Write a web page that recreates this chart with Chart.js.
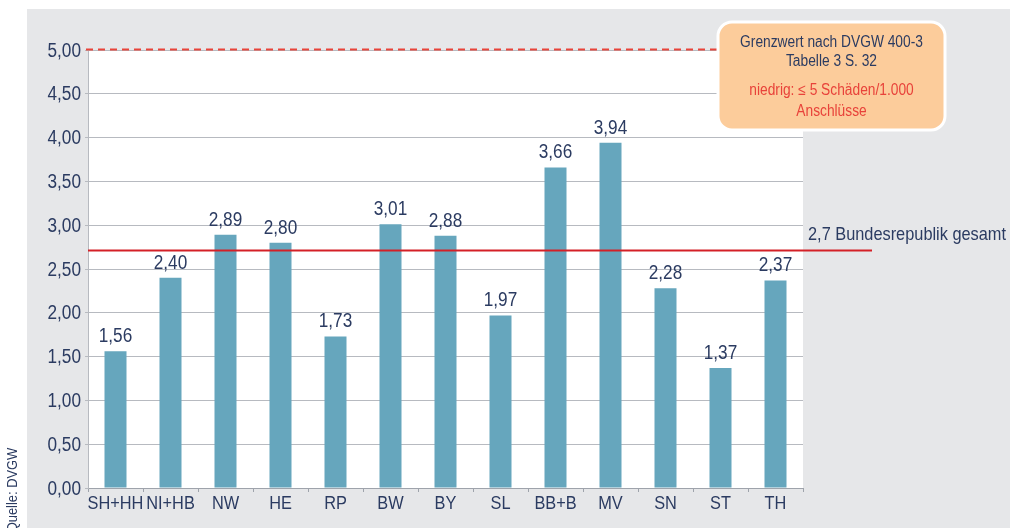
<!DOCTYPE html>
<html>
<head>
<meta charset="utf-8">
<script src="https://cdn.jsdelivr.net/npm/chart.js@4"></script>
<style>
  html, body { margin: 0; padding: 0; background: #fff; }
  #wrap { width: 1010px; height: 528px; }
</style>
</head>
<body>
<div id="wrap"><canvas id="schadenChart" width="1010" height="528"></canvas></div>
<script>
// Data
const laender = ['SH+HH', 'NI+HB', 'NW', 'HE', 'RP', 'BW', 'BY', 'SL', 'BB+B', 'MV', 'SN', 'ST', 'TH'];
const schaeden = [1.56, 2.40, 2.89, 2.80, 1.73, 3.01, 2.88, 1.97, 3.66, 3.94, 2.28, 1.37, 2.37];
const grenzwert = 5;
const bundesschnitt = 2.71;
const yTicks = [0, 0.5, 1, 1.5, 2, 2.5, 3, 3.5, 4, 4.5, 5];

const FONT = '"Liberation Sans", Arial, sans-serif';
const NAVY = '#2b3b61';
const SQUEEZE = 0.86; // narrow look of the original condensed face
const fmt = v => v.toFixed(2).replace('.', ',');

// draw text horizontally condensed
function narrowText(ctx, text, x, y, size, align, color, baseline) {
  ctx.save();
  ctx.translate(x, y);
  ctx.scale(SQUEEZE, 1);
  ctx.font = size + 'px ' + FONT;
  ctx.fillStyle = color;
  ctx.textAlign = align;
  ctx.textBaseline = baseline || 'middle';
  ctx.fillText(text, 0, 0);
  ctx.restore();
}

// Background, plot area, reference lines, box and labels
const deko = {
  id: 'deko',
  beforeDraw(chart) {
    const { ctx, chartArea: a } = chart;
    ctx.save();
    ctx.fillStyle = '#fff';
    ctx.fillRect(0, 0, chart.width, chart.height);
    ctx.fillStyle = '#e6e7e9';
    ctx.fillRect(27, 9, chart.width - 27, chart.height - 9);
    ctx.fillStyle = '#fff';
    ctx.fillRect(a.left, a.top, a.right - a.left, a.bottom - a.top);
    ctx.restore();
  },
  afterDatasetsDraw(chart) {
    const { ctx, chartArea: a, scales: { x, y } } = chart;
    ctx.save();

    // axis labels
    yTicks.forEach(v => narrowText(ctx, fmt(v), a.left - 7, y.getPixelForValue(v) + 1, 20, 'right', NAVY));
    laender.forEach((l, i) => narrowText(ctx, l, x.getPixelForValue(i), a.bottom + 16, 19, 'center', NAVY));

    // value labels
    chart.getDatasetMeta(0).data.forEach((bar, i) => {
      narrowText(ctx, fmt(schaeden[i]), bar.x, bar.y - 9, 20, 'center', NAVY, 'alphabetic');
    });

    // Grenzwert dashed
    const yG = Math.round(y.getPixelForValue(grenzwert)) - 0.5;
    ctx.strokeStyle = '#e8443a';
    ctx.lineWidth = 2;
    ctx.setLineDash([7, 5]);
    ctx.beginPath();
    ctx.moveTo(a.left - 2, yG);
    ctx.lineTo(a.right - 80, yG);
    ctx.stroke();
    ctx.setLineDash([]);

    // Bundesschnitt
    const yB = y.getPixelForValue(bundesschnitt);
    ctx.strokeStyle = '#d42027';
    ctx.lineWidth = 2;
    ctx.beginPath();
    ctx.moveTo(a.left, yB);
    ctx.lineTo(a.right + 69, yB);
    ctx.stroke();
    narrowText(ctx, '2,7 Bundesrepublik gesamt', a.right + 5, yB - 16, 19, 'left', NAVY);

    // Grenzwert box
    const bx = a.right - 85, by = 22, bw = 227, bh = 108;
    ctx.beginPath();
    ctx.roundRect(bx, by, bw, bh, 14);
    ctx.fillStyle = '#fccc9b';
    ctx.fill();
    ctx.strokeStyle = '#fff';
    ctx.lineWidth = 3;
    ctx.stroke();
    const cx = bx + bw / 2;
    narrowText(ctx, 'Grenzwert nach DVGW 400-3', cx, by + 21, 16, 'center', NAVY);
    narrowText(ctx, 'Tabelle 3 S. 32', cx, by + 40, 16, 'center', NAVY);
    narrowText(ctx, 'niedrig: \u2264 5 Schäden/1.000', cx, by + 69, 16, 'center', '#e8423a');
    narrowText(ctx, 'Anschlüsse', cx, by + 90, 16, 'center', '#e8423a');

    // Quelle
    ctx.translate(13, 490);
    ctx.rotate(-Math.PI / 2);
    narrowText(ctx, 'Quelle: DVGW', 0, 0, 15, 'center', NAVY);
    ctx.restore();
  }
};

new Chart(document.getElementById('schadenChart'), {
  type: 'bar',
  data: {
    labels: laender,
    datasets: [{
      data: schaeden,
      backgroundColor: '#66a6bd',
      borderWidth: 0,
      barPercentage: 0.4,
      categoryPercentage: 1
    }]
  },
  options: {
    responsive: false,
    animation: false,
    layout: { padding: { left: 0, top: 50, right: 207, bottom: 0 } },
    plugins: { legend: { display: false }, tooltip: { enabled: false } },
    scales: {
      x: {
        grid: { drawOnChartArea: false, offset: true, tickLength: 4, color: '#9ea3ab' },
        border: { color: '#9ea3ab' },
        ticks: { display: false },
        afterFit: s => { s.height = 40; }
      },
      y: {
        min: 0,
        max: 5,
        afterBuildTicks: s => { s.ticks = yTicks.map(v => ({ value: v })); },
        grid: { color: '#b7bac0', tickLength: 3 },
        border: { color: '#b7bac0' },
        ticks: { display: false },
        afterFit: s => { s.width = 88; }
      }
    }
  },
  plugins: [deko]
});
</script>
</body>
</html>
